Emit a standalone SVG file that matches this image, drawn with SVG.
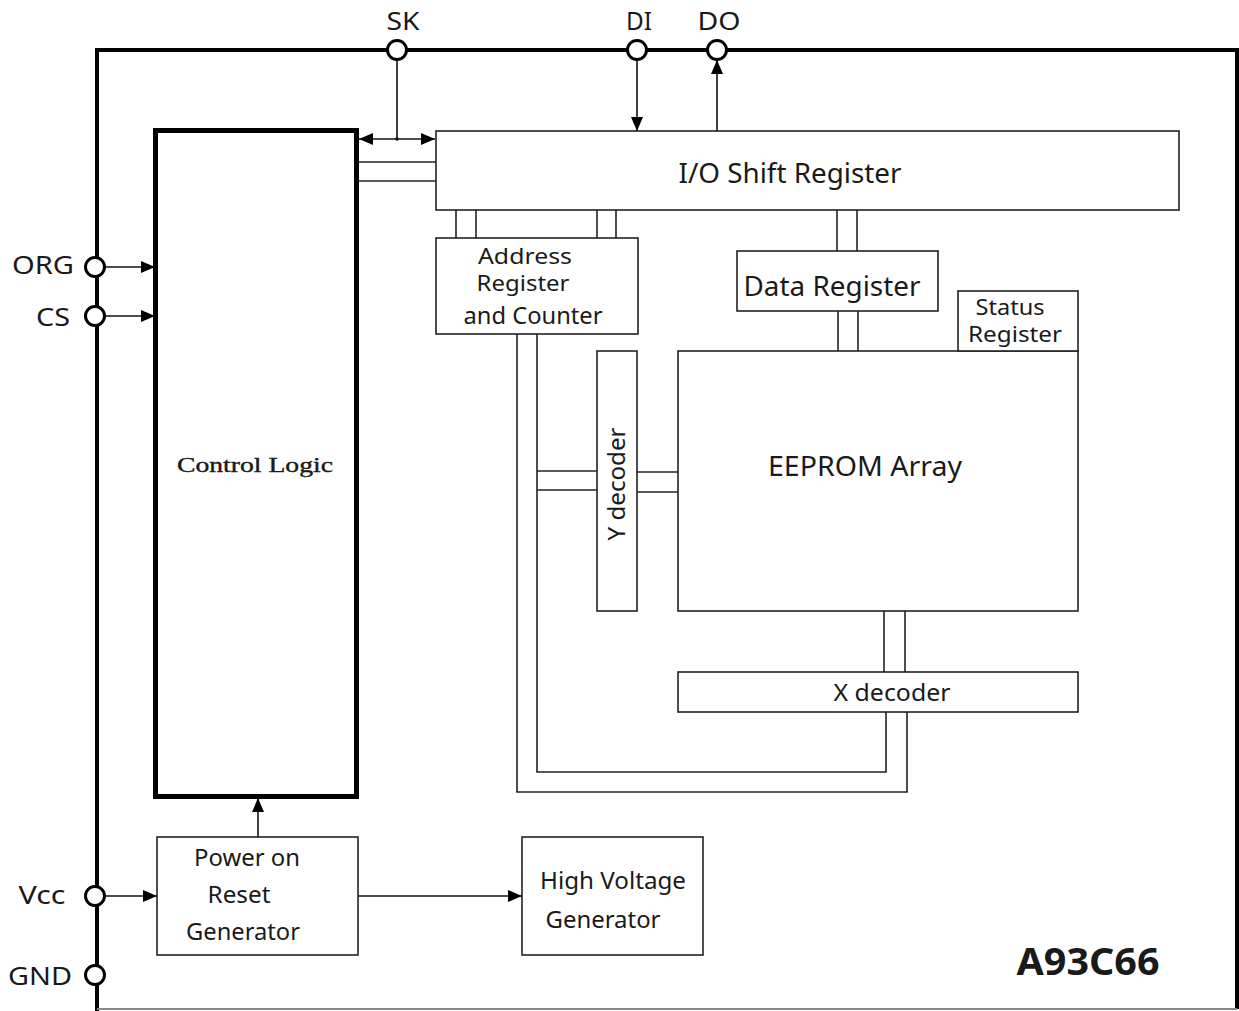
<svg xmlns="http://www.w3.org/2000/svg" width="1239" height="1011" viewBox="0 0 1239 1011">
<style>
.bx{fill:#fff;stroke:#222;stroke-width:1.6}
.ln{fill:none;stroke:#222;stroke-width:1.6}
.ar{fill:none;stroke:#111;stroke-width:1.6}
.pin{fill:#fff;stroke:#000;stroke-width:3}
.t{font-family:"Noto Sans","Open Sans",sans-serif;fill:#1a1a1a;text-anchor:middle}
.s27{font-size:27px}
.s23{font-size:23px}
.s21{font-size:21px}
.s25{font-size:25px}
</style>
<defs>
<marker id="ah" viewBox="0 0 14 12" refX="14" refY="6" markerWidth="14" markerHeight="12" markerUnits="userSpaceOnUse" orient="auto-start-reverse">
<path d="M0,0 L14,6 L0,12 Z" fill="#000"/>
</marker>
</defs>
<rect width="1239" height="1011" fill="#fff"/>
<g id="frame">
<path d="M97,1011 V50 H1237 V1009" fill="none" stroke="#000" stroke-width="4"/>
<line x1="97" y1="1009" x2="1237" y2="1009" stroke="#888" stroke-width="2"/>
</g>
<g id="connectors">
<line class="ar" x1="397" y1="59" x2="397" y2="139"/>
<line class="ar" x1="359" y1="139" x2="435" y2="139" marker-start="url(#ah)" marker-end="url(#ah)"/>
<circle cx="397" cy="139" r="1.8" fill="#111"/>
<line class="ln" x1="358" y1="162" x2="436" y2="162"/>
<line class="ln" x1="358" y1="181" x2="436" y2="181"/>
<line class="ar" x1="637" y1="59" x2="637" y2="131" marker-end="url(#ah)"/>
<line class="ar" x1="717" y1="131" x2="717" y2="60" marker-end="url(#ah)"/>
<line class="ar" x1="104" y1="267" x2="155" y2="267" marker-end="url(#ah)"/>
<line class="ar" x1="104" y1="316" x2="155" y2="316" marker-end="url(#ah)"/>
<line class="ar" x1="104" y1="896" x2="157" y2="896" marker-end="url(#ah)"/>
<line class="ar" x1="258" y1="837" x2="258" y2="798" marker-end="url(#ah)"/>
<line class="ar" x1="358" y1="896" x2="522" y2="896" marker-end="url(#ah)"/>
<line class="ln" x1="456" y1="210" x2="456" y2="238"/>
<line class="ln" x1="476" y1="210" x2="476" y2="238"/>
<line class="ln" x1="597" y1="210" x2="597" y2="238"/>
<line class="ln" x1="616" y1="210" x2="616" y2="238"/>
<line class="ln" x1="837" y1="210" x2="837" y2="251"/>
<line class="ln" x1="857" y1="210" x2="857" y2="251"/>
<line class="ln" x1="838" y1="311" x2="838" y2="351"/>
<line class="ln" x1="858" y1="311" x2="858" y2="351"/>
<path class="ln" d="M517,334 V792 H907 V712"/>
<path class="ln" d="M537,334 V772 H886 V712"/>
<line class="ln" x1="537" y1="471" x2="597" y2="471"/>
<line class="ln" x1="537" y1="490" x2="597" y2="490"/>
<line class="ln" x1="637" y1="472" x2="678" y2="472"/>
<line class="ln" x1="637" y1="492" x2="678" y2="492"/>
<line class="ln" x1="884" y1="611" x2="884" y2="672"/>
<line class="ln" x1="905" y1="611" x2="905" y2="672"/>
</g>
<g id="pins">
<circle class="pin" cx="397" cy="50" r="9.5"/>
<circle class="pin" cx="637" cy="50" r="9.5"/>
<circle class="pin" cx="717" cy="50" r="9.5"/>
<circle class="pin" cx="95" cy="267" r="9.5"/>
<circle class="pin" cx="95" cy="316" r="9.5"/>
<circle class="pin" cx="95" cy="896" r="9.5"/>
<circle class="pin" cx="95" cy="975" r="9.5"/>
<text class="t s25" x="403" y="30" textLength="33" lengthAdjust="spacingAndGlyphs">SK</text>
<text class="t s25" x="639" y="30" textLength="26" lengthAdjust="spacingAndGlyphs">DI</text>
<text class="t s25" x="719" y="30" textLength="43" lengthAdjust="spacingAndGlyphs">DO</text>
<text class="t s25" x="43" y="274" textLength="62" lengthAdjust="spacingAndGlyphs">ORG</text>
<text class="t s25" x="53" y="326" textLength="34" lengthAdjust="spacingAndGlyphs">CS</text>
<text class="t s25" x="42" y="904" textLength="47" lengthAdjust="spacingAndGlyphs">Vcc</text>
<text class="t s25" x="40" y="985" textLength="64" lengthAdjust="spacingAndGlyphs">GND</text>
</g>
<g id="control-logic">
<rect x="155.5" y="130.5" width="201" height="666" fill="#fff" stroke="#000" stroke-width="5"/>
<text x="255" y="472" font-family="'Liberation Serif',serif" font-size="22" fill="#1a1a1a" text-anchor="middle" textLength="156" lengthAdjust="spacingAndGlyphs" stroke="#1a1a1a" stroke-width="0.4">Control Logic</text>
</g>
<g id="io-shift-register">
<rect class="bx" x="436" y="131" width="743" height="79"/>
<text class="t s27" x="790" y="183" textLength="223" lengthAdjust="spacingAndGlyphs">I/O Shift Register</text>
</g>
<g id="address-register">
<rect class="bx" x="436" y="238" width="202" height="96"/>
<text class="t s21" x="525" y="264" textLength="94" lengthAdjust="spacingAndGlyphs">Address</text>
<text class="t s21" x="523" y="291" textLength="93" lengthAdjust="spacingAndGlyphs">Register</text>
<text class="t s23" x="533" y="324" textLength="139" lengthAdjust="spacingAndGlyphs">and Counter</text>
</g>
<g id="data-register">
<rect class="bx" x="737" y="251" width="201" height="60"/>
<text class="t s27" x="832" y="296" textLength="177" lengthAdjust="spacingAndGlyphs">Data Register</text>
</g>
<g id="eeprom-array">
<rect class="bx" x="678" y="351" width="400" height="260"/>
<text class="t s27" x="865" y="476" textLength="194" lengthAdjust="spacingAndGlyphs">EEPROM Array</text>
</g>
<g id="status-register">
<rect class="bx" x="958" y="291" width="120" height="60"/>
<text class="t s21" x="1010" y="315" textLength="69" lengthAdjust="spacingAndGlyphs">Status</text>
<text class="t s21" x="1015" y="342" textLength="94" lengthAdjust="spacingAndGlyphs">Register</text>
</g>
<g id="y-decoder">
<rect class="bx" x="597" y="351" width="40" height="260"/>
<text class="t s23" transform="translate(625,484) rotate(-90)" x="0" y="0" textLength="113" lengthAdjust="spacingAndGlyphs">Y decoder</text>
</g>
<g id="x-decoder">
<rect class="bx" x="678" y="672" width="400" height="40"/>
<text class="t s23" x="892" y="701" textLength="117" lengthAdjust="spacingAndGlyphs">X decoder</text>
</g>
<g id="power-on-reset">
<rect class="bx" x="157" y="837" width="201" height="118"/>
<text class="t s23" x="247" y="866" textLength="106" lengthAdjust="spacingAndGlyphs">Power on</text>
<text class="t s23" x="239" y="903" textLength="63" lengthAdjust="spacingAndGlyphs">Reset</text>
<text class="t s23" x="243" y="940" textLength="114" lengthAdjust="spacingAndGlyphs">Generator</text>
</g>
<g id="high-voltage">
<rect class="bx" x="522" y="837" width="181" height="118"/>
<text class="t s23" x="613" y="889" textLength="146" lengthAdjust="spacingAndGlyphs">High Voltage</text>
<text class="t s23" x="603" y="928" textLength="115" lengthAdjust="spacingAndGlyphs">Generator</text>
</g>
<g id="part-label">
<text class="t" x="1088" y="975" font-size="38" font-weight="bold" textLength="143" lengthAdjust="spacingAndGlyphs">A93C66</text>
</g>
</svg>
